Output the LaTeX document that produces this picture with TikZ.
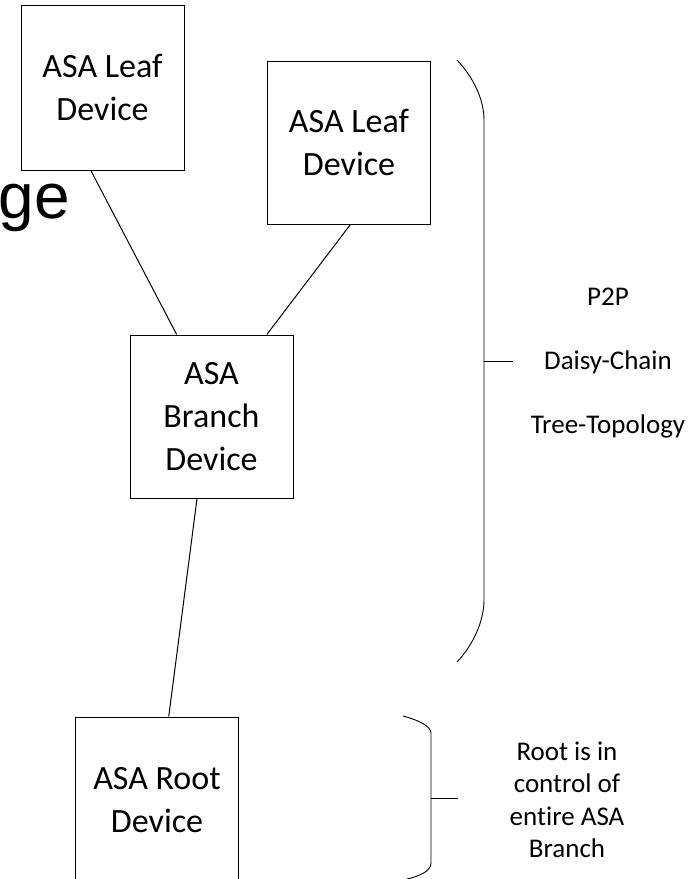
\documentclass[tikz,border=0pt]{standalone}
\usepackage{fontspec}
\setmainfont[Ligatures=NoCommon]{Carlito}
\newfontfamily\headfont{Liberation Sans}
\begin{document}
\begin{tikzpicture}[x=1pt,y=-1pt,
  device/.style={draw, line width=1pt, minimum width=163pt, minimum height=163pt,
    align=center, font=\fontsize{34}{43}\selectfont},
  note/.style={align=center, font=\fontsize{27}{32.5}\selectfont},
  link/.style={line width=1pt},
  bracket/.style={line width=0.9pt}]
\useasboundingbox (0,0) rectangle (691,879);
% slide title, left part runs off the page
\node[font=\headfont\fontsize{64}{64}\selectfont, anchor=base east, inner sep=0pt] (title) at (70,218) {ge};
% devices
\node[device, minimum height=165pt] (leafA) at (102.5,87.5) {ASA Leaf\\Device};
\node[device] (leafB) at (349,142.5) {ASA Leaf\\Device};
\node[device] (branch) at (211.5,416.5) {ASA\\Branch\\Device};
\node[device, minimum height=166pt] (root) at (157,800) {ASA Root\\Device};
\draw[link] (leafA.-98) -- (branch.113);
\draw[link] (leafB.-89) -- (branch.56);
\draw[link] (branch.-100) -- (root.82);
% topology bracket
\draw[bracket] (457,60) .. controls (474,78) and (484,100) .. (484,120) -- (484,600)
  .. controls (484,620) and (474,644) .. (457,662);
\draw[bracket] (484,361) -- (513,361);
\node[note, anchor=base] (p2p) at (608,305) {P2P};
\node[note, anchor=base] (daisy) at (608,369) {Daisy-Chain};
\node[note, anchor=base] (tree) at (608,433) {Tree-Topology};
% root bracket
\draw[bracket] (403,716) .. controls (418,720) and (431,726) .. (431,733) -- (431,863)
  .. controls (431,871) and (420,876) .. (407,879);
\draw[bracket] (431,798) -- (458,798);
\node[note] (rootnote) at (567,800) {Root is in\\control of\\entire ASA\\Branch};
\end{tikzpicture}
\end{document}
